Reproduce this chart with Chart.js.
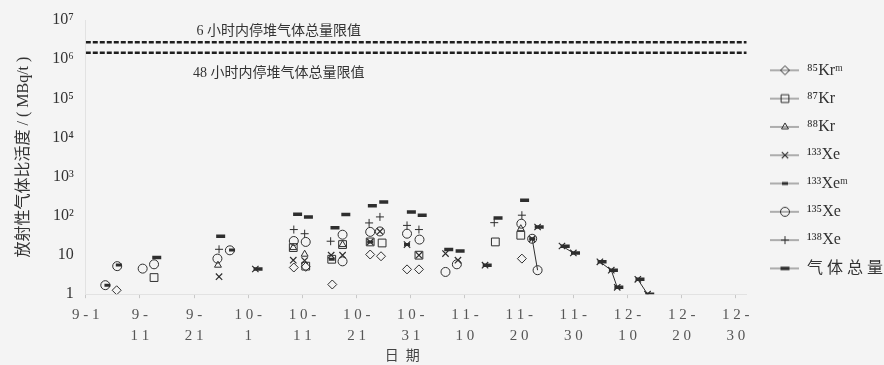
<!DOCTYPE html>
<html>
<head>
<meta charset="utf-8">
<script src="https://cdn.jsdelivr.net/npm/chart.js@4.4.0/dist/chart.umd.min.js"></script>
<style>
  html, body { margin: 0; padding: 0; background: #f4f4f4; overflow: hidden; }
  #wrap { width: 884px; height: 365px; }
</style>
</head>
<body>
<div id="wrap"><canvas id="c" width="884" height="365"></canvas></div>
<script>
// x values are days counted from 9-1
var xTickDays = [0, 10, 20, 30, 40, 50, 60, 70, 80, 90, 100, 110, 120];
var xTickLabels = ['9 - 1', ['9 -', '1 1'], ['9 -', '2 1'], ['1 0 -', '1'], ['1 0 -', '1 1'], ['1 0 -', '2 1'],
  ['1 0 -', '3 1'], ['1 1 -', '1 0'], ['1 1 -', '2 0'], ['1 1 -', '3 0'], ['1 2 -', '1 0'], ['1 2 -', '2 0'], ['1 2 -', '3 0']];
var yTicks = [1, 10, 100, 1e3, 1e4, 1e5, 1e6, 1e7];
var yTickLabels = ['1', '10', '10²', '10³', '10⁴', '10⁵', '10⁶', '10⁷'];

var seriesNames = ['⁸⁵Krᵐ', '⁸⁷Kr', '⁸⁸Kr', '¹³³Xe', '¹³³Xeᵐ', '¹³⁵Xe', '¹³⁸Xe', '气 体 总 量'];

var kr85mDays = [5.7, 38.4, 40.6, 45.5, 52.5, 54.5, 59.3, 61.5, 80.5];
var kr85mVals = [1.26, 4.8, 5.0, 1.77, 10.3, 9.3, 4.3, 4.3, 8.1];

var kr87Days = [12.6, 38.3, 40.6, 45.4, 47.4, 52.5, 54.7, 61.5, 75.6, 80.3];
var kr87Vals = [2.66, 15.5, 5.2, 7.8, 18.5, 21.6, 20.3, 9.9, 21.6, 32];

var kr88Days = [24.4, 38.3, 40.4, 47.4, 80.3];
var kr88Vals = [5.5, 15.5, 10.5, 18.5, 47];

var xe133Days = [24.6, 31.3, 38.3, 40.4, 45.3, 47.4, 52.5, 54.3, 59.3, 61.5, 66.4, 68.7, 73.7, 82.4, 83.4,
  87.9, 90.0, 94.9, 97.0, 98.1, 101.9, 103.7];
var xe133Vals = [2.8, 4.4, 7.4, 7.2, 9.9, 9.9, 21.6, 40, 18.5, 9.9, 10.9, 7.4, 5.5, 26, 52,
  17, 11.3, 6.7, 4.1, 1.5, 2.4, 1.0];
var xe133Link = [0, 0, 0, 0, 0, 0, 0, 0, 0, 0, 0, 0, 0, 0, 0,
  0, 1, 0, 1, 1, 0, 1]; // 1 = joined to the previous point

var xe133mDays = [4.0, 6.1, 27.0, 45.4, 52.5, 59.3, 82.4];
var xe133mVals = [1.7, 5.6, 13.5, 7.8, 21.6, 18.5, 26];

var xe135Days = [3.6, 5.8, 10.5, 12.6, 24.3, 26.6, 38.4, 40.6, 47.4, 47.4, 52.5, 54.3, 59.3, 61.6, 66.4, 68.5, 80.4, 82.4, 83.4];
var xe135Vals = [1.7, 5.2, 4.5, 5.8, 8.1, 13.2, 22.8, 21.6, 33, 6.9, 39, 40, 35, 24.8, 3.7, 5.8, 63, 26, 4.1];
var xe135Link = [0, 0, 0, 0, 0, 0, 0, 0, 0, 0, 0, 0, 0, 0, 0, 0, 0, 0, 1];

var xe138Days = [24.6, 38.4, 40.4, 45.2, 52.3, 54.3, 59.3, 61.5, 75.4, 80.5];
var xe138Vals = [14, 44.7, 35, 22.5, 66, 94, 57, 44.7, 67, 104];

var totalDays = [13.1, 24.9, 31.8, 39.1, 41.1, 46.0, 48.0, 52.9, 55.0, 60.1, 62.1, 67.0, 69.1, 74.1, 76.1, 81.0, 83.7,
  88.5, 90.4, 95.3, 97.4, 98.4, 102.3, 104.1];
var totalVals = [8.6, 30, 4.4, 110, 94, 50, 108, 180, 226, 126, 103, 13.8, 12.7, 5.5, 88, 251, 52,
  16.8, 11.3, 6.7, 4.1, 1.5, 2.4, 1.0];

var limitVals = [2.7e6, 1.45e6];
var limitNames = ['6 小时内停堆气体总量限值', '48 小时内停堆气体总量限值'];
var limitSpan = [0, 122];

var ink = '#2e2e2e';
var serif = "'Liberation Serif', 'Noto Sans CJK SC', serif";

function pts(days, vals) {
  var out = [];
  for (var i = 0; i < days.length; i++) out.push({ x: days[i], y: vals[i] });
  return out;
}

function linked(link) {
  return function (ctx) { return link[ctx.p1DataIndex] ? ink : 'rgba(0,0,0,0)'; };
}

function series(i, days, vals, style, r, bw, link) {
  var ds = {
    label: seriesNames[i],
    data: pts(days, vals),
    pointStyle: style,
    pointRadius: r,
    pointBorderWidth: bw,
    pointBorderColor: ink,
    pointBackgroundColor: 'rgba(0,0,0,0)',
    borderColor: ink,
    borderWidth: 1,
    showLine: false
  };
  if (link) {
    ds.showLine = true;
    ds.segment = { borderColor: linked(link) };
  }
  return ds;
}

var datasets = [
  series(0, kr85mDays, kr85mVals, 'rectRot', 4.5, 1),
  series(1, kr87Days, kr87Vals, 'rect', 5.5, 1),
  series(2, kr88Days, kr88Vals, 'triangle', 4, 1),
  series(3, xe133Days, xe133Vals, 'crossRot', 4.5, 1.2, xe133Link),
  series(4, xe133mDays, xe133mVals, 'line', 3, 3),
  series(5, xe135Days, xe135Vals, 'circle', 4.5, 1, xe135Link),
  series(6, xe138Days, xe138Vals, 'cross', 4, 1),
  series(7, totalDays, totalVals, 'line', 4.5, 3.5)
];

limitVals.forEach(function (v) {
  datasets.push({
    type: 'line',
    label: '',
    data: [{ x: limitSpan[0], y: v }, { x: limitSpan[1], y: v }],
    borderColor: '#1e1e1e',
    borderWidth: 2.5,
    borderDash: [5, 2],
    pointRadius: 0
  });
});

// legend icon: short line with the marker on it (marker a little right of centre)
function legendIcon(ds) {
  var c = document.createElement('canvas');
  c.width = 40; c.height = 14;
  var g = c.getContext('2d');
  g.strokeStyle = '#666'; g.lineWidth = 1;
  g.beginPath(); g.moveTo(11, 7); g.lineTo(40, 7); g.stroke();
  g.strokeStyle = ink; g.fillStyle = 'rgba(0,0,0,0)'; g.lineWidth = ds.pointBorderWidth;
  Chart.helpers.drawPoint(g, { pointStyle: ds.pointStyle, radius: ds.pointRadius, borderWidth: ds.pointBorderWidth, rotation: 0 }, 26, 7);
  return c;
}

var limitText = {
  id: 'limitText',
  afterDatasetsDraw: function (chart) {
    var ctx = chart.ctx, xs = chart.scales.x, ys = chart.scales.y;
    var cx = xs.getPixelForValue(35.6);
    ctx.save();
    ctx.font = "14px " + serif;
    ctx.fillStyle = '#333';
    ctx.textAlign = 'center';
    ctx.textBaseline = 'middle';
    ctx.fillText(limitNames[0], cx, ys.getPixelForValue(limitVals[0]) - 11);
    ctx.fillText(limitNames[1], cx, ys.getPixelForValue(limitVals[1]) + 20);
    ctx.restore();
  }
};

new Chart(document.getElementById('c'), {
  type: 'scatter',
  data: { datasets: datasets },
  plugins: [limitText],
  options: {
    responsive: false,
    devicePixelRatio: 1,
    animation: false,
    layout: { padding: { left: 14, top: 20, right: -9, bottom: 0 } },
    plugins: {
      tooltip: { enabled: false },
      legend: {
        position: 'right',
        align: 'start',
        title: { display: true, text: ' ', font: { size: 10 }, padding: { top: 18, bottom: 0 } },
        labels: {
          usePointStyle: true,
          pointStyleWidth: 40,
          padding: 12.3,
          color: '#333',
          font: { family: serif, size: 16 },
          filter: function (item) { return item.text !== ''; },
          generateLabels: function (chart) {
            var items = Chart.defaults.plugins.legend.labels.generateLabels(chart);
            items.forEach(function (it) {
              var ds = chart.data.datasets[it.datasetIndex];
              if (ds.label) it.pointStyle = legendIcon(ds);
            });
            return items;
          }
        }
      }
    },
    scales: {
      x: {
        type: 'linear',
        min: 0,
        max: 122,
        afterBuildTicks: function (axis) {
          axis.ticks = xTickDays.map(function (d) { return { value: d }; });
        },
        ticks: {
          autoSkip: false,
          maxRotation: 0,
          padding: 6,
          color: '#555',
          font: { family: serif, size: 15, lineHeight: 1.4 },
          callback: function (v) { return xTickLabels[xTickDays.indexOf(v)]; }
        },
        grid: { drawOnChartArea: false, tickLength: 4, color: '#c8c8c8' },
        border: { color: '#e2e2e2' },
        title: {
          display: true,
          text: '日  期        ',
          color: '#444',
          font: { family: serif, size: 14 },
          padding: { top: -4, bottom: 0 }
        }
      },
      y: {
        type: 'logarithmic',
        min: 1,
        max: 1e7,
        afterBuildTicks: function (axis) {
          axis.ticks = yTicks.map(function (v) { return { value: v }; });
        },
        ticks: {
          autoSkip: false,
          padding: 4,
          color: '#333',
          font: { family: serif, size: 16 },
          callback: function (v) { return yTickLabels[yTicks.indexOf(v)]; }
        },
        grid: { display: false },
        border: { color: '#e2e2e2' },
        title: {
          display: true,
          text: '放射性气体比活度 / ( MBq/t )',
          color: '#333',
          font: { family: serif, size: 16 },
          padding: { top: 0, bottom: 15 }
        }
      }
    }
  }
});
</script>
</body>
</html>
